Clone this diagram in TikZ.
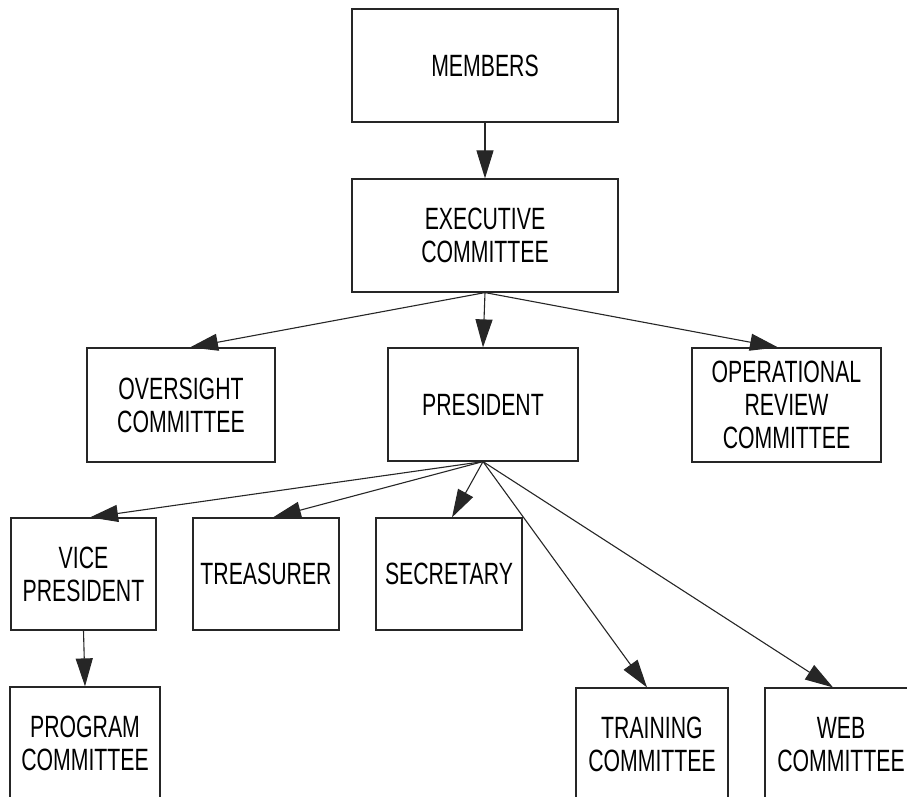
\documentclass[tikz,border=0pt]{standalone}
\usepackage{fontspec}
\setmainfont[FakeStretch=0.69]{Liberation Sans}
\usetikzlibrary{arrows.meta}

\tikzset{
  orgbox/.style={draw=black!85, line width=0.6pt, inner sep=0pt, align=center,
    font=\fontsize{15.4}{16.5}\selectfont},
  orgarrow/.style={draw=black!85, line width=0.55pt, -{Triangle[length=14pt,width=8.5pt]}}
}

\begin{document}
\begin{tikzpicture}[x=0.5pt,y=-0.5pt]

          \clip (0,0) rectangle (907,797);

          % top of the chart
          \node[orgbox, minimum width=133pt, minimum height=56.5pt] (members) at (485,65.5) {MEMBERS};
          \node[orgbox, minimum width=133pt, minimum height=56.5pt] (exec) at (485,235.5) {EXECUTIVE\\COMMITTEE};

          % second row
          \node[orgbox, minimum width=94pt, minimum height=57pt] (oversight) at (181,405) {OVERSIGHT\\COMMITTEE};
          \node[orgbox, minimum width=95pt, minimum height=56.5pt] (pres) at (483,404.5) {PRESIDENT};
          \node[orgbox, minimum width=94.5pt, minimum height=57pt] (review) at (786.5,405) {OPERATIONAL\\REVIEW\\COMMITTEE};

          % officers
          \node[orgbox, minimum width=72.5pt, minimum height=56pt] (vp) at (83.5,574) {VICE\\PRESIDENT};
          \node[orgbox, minimum width=73pt, minimum height=56pt] (treas) at (266,574) {\raisebox{-4pt}{TREASURER}};
          \node[orgbox, minimum width=73pt, minimum height=56pt] (secr) at (449,574) {\raisebox{-4pt}{SECRETARY}};

          % committees at the bottom (cut by the page)
          \node[orgbox, minimum width=75pt, minimum height=56.5pt] (program) at (85,743.5) {PROGRAM\\COMMITTEE};
          \node[orgbox, minimum width=76pt, minimum height=56.5pt] (training) at (652,744.5) {TRAINING\\COMMITTEE};
          \node[orgbox, minimum width=76pt, minimum height=56.5pt] (web) at (841,744.5) {WEB\\COMMITTEE};

          \draw[orgarrow] (members.south) -- (exec.north);

          \draw[orgarrow] (exec.south) -- ([xshift=4.5pt]oversight.north);
          \draw[orgarrow] (exec.south) -- (pres.north);
          \draw[orgarrow] (exec.south) -- ([xshift=-4.25pt]review.north);

          \draw[orgarrow] (pres.south) -- ([xshift=3.25pt]vp.north);
          \draw[orgarrow] (pres.south) -- ([xshift=3.5pt]treas.north);
          \draw[orgarrow] (pres.south) -- ([xshift=1.5pt]secr.north);
          \draw[orgarrow] (pres.south) -- ([xshift=-2.5pt]training.north);
          \draw[orgarrow] (pres.south) -- ([xshift=-4pt]web.north);

          \draw[orgarrow] (vp.south) -- (program.north);

        \end{tikzpicture}
\end{document}
